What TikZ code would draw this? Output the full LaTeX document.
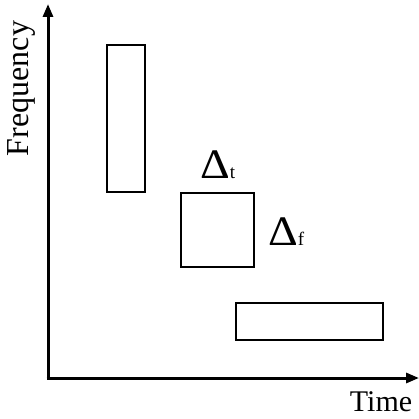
\documentclass[tikz,border=0pt]{standalone}
\usepackage{graphicx}
\usepackage{fontspec}
\setmainfont{Liberation Serif}
\usetikzlibrary{arrows.meta}
\newcommand{\wideDelta}{\scalebox{1.1}[1]{Δ}}
\newcommand{\lowtag}[1]{{\fontsize{19}{19}\selectfont #1}}
\begin{document}
\begin{tikzpicture}[x=1pt,y=-1pt,
  axis/.style={line width=3pt,-{Triangle[length=13pt,width=10pt]}},
  tile/.style={draw,line width=2pt,inner sep=0pt},
  lbl/.style={inner sep=0pt,font=\fontsize{30}{30}\selectfont},
  dlt/.style={inner sep=0pt,anchor=base west,font=\fontsize{42}{42}\selectfont}]
\useasboundingbox (0,0) rectangle (419,419);
% axes
\coordinate (o) at (48,378);
\coordinate (ytop) at (48,4);
\coordinate (xend) at (419,378);
\draw[axis] ([yshift=1.5pt]o) -- (ytop);
\draw[axis] ([xshift=-1.5pt]o) -- (xend);
% time-frequency tiles
\node[tile,minimum width=38pt,minimum height=147pt] (tall) at (126,118.5) {};
\node[tile,minimum width=73pt,minimum height=74pt] (sq) at (217.5,230) {};
\node[tile,minimum width=147pt,minimum height=37pt] (wide) at (309.5,321.5) {};
% labels
\node[lbl,rotate=90,font=\fontsize{32}{32}\selectfont] (freq) at (21,88.5) {Frequency};
\node[lbl] (time) at (381,402) {Time};
\node[dlt] (dt) at (200,179) {\wideDelta\lowtag{t}};
\node[dlt] (df) at (268,245) {\wideDelta\lowtag{f}};
\end{tikzpicture}
\end{document}
